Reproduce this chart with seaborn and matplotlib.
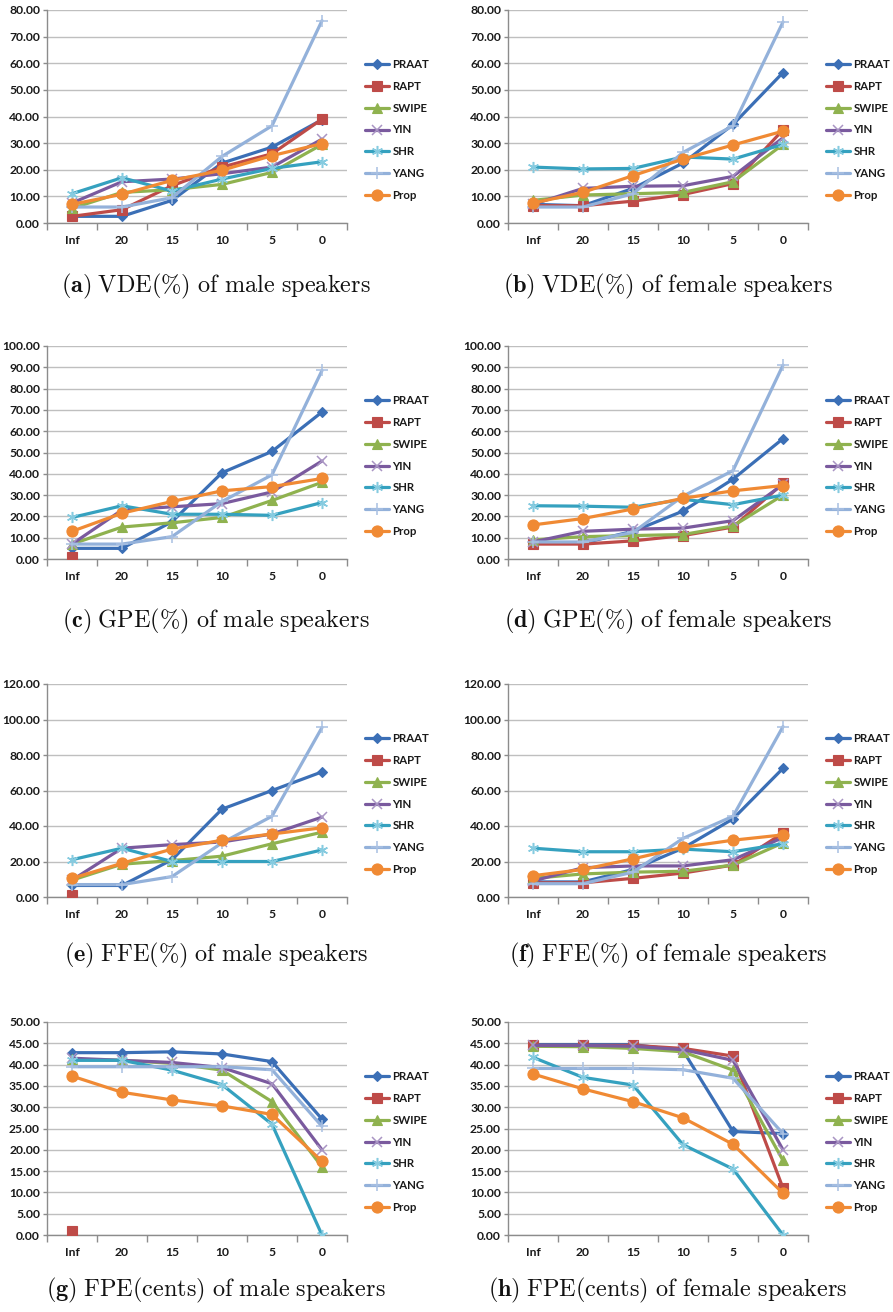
import numpy as np
import pandas as pd
import matplotlib
matplotlib.use("Agg")
import matplotlib.pyplot as plt
import seaborn as sns

sns.set_theme(style="white")
plt.rcParams["font.family"] = ["Lato", "DejaVu Sans"]
plt.rcParams["mathtext.fontset"] = "cm"

NA = np.nan
snr_labels = ["Inf", "20", "15", "10", "5", "0"]
methods = ["PRAAT", "RAPT", "SWIPE", "YIN", "SHR", "YANG", "Prop"]

# VDE(%) male / female
vde_male = {
    "PRAAT": [2.5, 2.5, 8.5, 22.5, 28.5, 38.8],
    "RAPT":  [2.5, 5.0, 14.0, 21.0, 26.0, 39.0],
    "SWIPE": [5.5, 11.5, 12.5, 14.5, 19.0, 29.5],
    "YIN":   [7.5, 15.5, 16.5, 18.5, 21.0, 31.5],
    "SHR":   [11.0, 17.0, 12.0, 16.5, 20.5, 23.0],
    "YANG":  [6.0, 6.0, 9.5, 25.0, 36.5, 76.0],
    "Prop":  [7.0, 10.8, 16.0, 19.8, 25.3, 29.8],
}
vde_female = {
    "PRAAT": [7.0, 6.5, 13.0, 22.5, 37.0, 56.5],
    "RAPT":  [6.5, 6.5, 8.2, 10.7, 14.8, 35.0],
    "SWIPE": [8.5, 10.5, 11.0, 11.5, 15.5, 29.5],
    "YIN":   [7.0, 13.0, 13.8, 14.0, 17.5, 32.0],
    "SHR":   [21.0, 20.3, 20.5, 24.8, 24.0, 29.5],
    "YANG":  [6.0, 6.0, 11.0, 26.5, 36.5, 75.5],
    "Prop":  [7.5, 11.5, 17.8, 24.0, 29.3, 34.5],
}
# GPE(%) male / female
gpe_male = {
    "PRAAT": [5.0, 5.0, 17.5, 40.5, 50.5, 69.0],
    "RAPT":  [1.0, NA, NA, NA, NA, NA],
    "SWIPE": [7.0, 15.0, 17.0, 19.5, 27.5, 36.0],
    "YIN":   [7.0, 23.0, 24.5, 26.0, 31.5, 46.0],
    "SHR":   [19.5, 25.0, 21.0, 21.0, 20.5, 26.5],
    "YANG":  [7.0, 7.0, 10.5, 27.0, 39.5, 88.5],
    "Prop":  [13.0, 21.5, 27.0, 32.0, 34.0, 37.8],
}
gpe_female = {
    "PRAAT": [7.5, 7.5, 13.0, 22.5, 37.5, 56.5],
    "RAPT":  [7.0, 7.0, 8.5, 11.0, 15.0, 35.5],
    "SWIPE": [9.0, 10.5, 11.0, 11.5, 15.5, 30.0],
    "YIN":   [8.0, 13.0, 14.0, 14.5, 18.0, 35.0],
    "SHR":   [25.0, 24.8, 24.3, 28.0, 25.5, 30.0],
    "YANG":  [8.0, 8.0, 12.5, 29.5, 41.5, 91.0],
    "Prop":  [16.0, 19.0, 23.5, 28.5, 32.0, 34.5],
}
# FFE(%) male / female
ffe_male = {
    "PRAAT": [6.5, 6.5, 21.0, 49.5, 60.0, 70.5],
    "RAPT":  [1.0, NA, NA, NA, NA, NA],
    "SWIPE": [9.5, 18.5, 20.5, 23.0, 30.0, 36.5],
    "YIN":   [9.5, 27.5, 29.5, 31.0, 35.5, 45.0],
    "SHR":   [21.0, 27.5, 20.0, 20.0, 20.0, 26.5],
    "YANG":  [7.0, 7.0, 11.5, 30.5, 45.5, 95.5],
    "Prop":  [10.5, 19.0, 27.0, 32.0, 35.5, 39.0],
}
ffe_female = {
    "PRAAT": [8.5, 8.5, 15.5, 27.5, 44.0, 72.5],
    "RAPT":  [8.0, 8.0, 10.5, 13.5, 18.0, 36.0],
    "SWIPE": [10.5, 13.0, 14.0, 14.5, 18.0, 30.5],
    "YIN":   [9.0, 16.5, 17.5, 17.5, 21.0, 33.5],
    "SHR":   [27.5, 25.5, 25.5, 27.0, 25.5, 30.0],
    "YANG":  [7.5, 7.5, 14.0, 33.0, 45.5, 96.0],
    "Prop":  [12.0, 15.5, 21.5, 28.0, 32.0, 35.0],
}
# FPE(cents) male / female
fpe_male = {
    "PRAAT": [42.8, 42.8, 43.0, 42.5, 40.7, 27.2],
    "RAPT":  [1.0, NA, NA, NA, NA, NA],
    "SWIPE": [41.2, 41.0, 40.3, 38.7, 31.3, 16.0],
    "YIN":   [41.5, 41.0, 40.5, 39.3, 35.5, 20.0],
    "SHR":   [41.0, 41.0, 38.7, 35.3, 26.0, 0.0],
    "YANG":  [39.5, 39.5, 39.5, 39.5, 38.8, 25.5],
    "Prop":  [37.3, 33.5, 31.7, 30.3, 28.3, 17.3],
}
fpe_female = {
    "PRAAT": [44.7, 44.7, 44.7, 43.3, 24.3, 23.8],
    "RAPT":  [44.5, 44.5, 44.5, 43.8, 42.0, 11.0],
    "SWIPE": [44.3, 44.2, 43.8, 43.0, 38.7, 17.5],
    "YIN":   [44.5, 44.5, 44.3, 43.5, 41.0, 20.0],
    "SHR":   [41.7, 37.0, 35.2, 21.2, 15.5, 0.0],
    "YANG":  [39.1, 39.1, 39.1, 38.8, 36.8, 23.8],
    "Prop":  [37.8, 34.3, 31.3, 27.5, 21.3, 9.8],
}

colors = {
    "PRAAT": "#3B6FB6", "RAPT": "#BE4B48", "SWIPE": "#8FB24F",
    "YIN": "#7A5A9E", "SHR": "#35A1BF", "YANG": "#93B1DA", "Prop": "#F08A34",
}
markers = {
    "PRAAT": ("D", 5.0), "RAPT": ("s", 7.0), "SWIPE": ("^", 7.0),
    "YIN": ("x", 7.0), "SHR": ((6, 2, 0), 8.0), "YANG": ("+", 8.0),
    "Prop": ("o", 8.0),
}
marker_colors = {"YIN": "#A995C4", "SHR": "#86CBE0", "YANG": "#A8C0E2"}

panels = [
    (vde_male, 80, 10, "a", "VDE(\\%) of male speakers", 0),
    (vde_female, 80, 10, "b", "VDE(\\%) of female speakers", 1),
    (gpe_male, 100, 10, "c", "GPE(\\%) of male speakers", 0),
    (gpe_female, 100, 10, "d", "GPE(\\%) of female speakers", 1),
    (ffe_male, 120, 20, "e", "FFE(\\%) of male speakers", 0),
    (ffe_female, 120, 20, "f", "FFE(\\%) of female speakers", 1),
    (fpe_male, 50, 5, "g", "FPE(cents) of male speakers", 0),
    (fpe_female, 50, 5, "h", "FPE(cents) of female speakers", 1),
]

W, H = 893, 1312
fig = plt.figure(figsize=(W / 100, H / 100), dpi=100)
fig.patch.set_facecolor("white")

row_tops = [10, 346, 684, 1022]
plot_h = 213
col_left = [47, 508]
plot_w = 300
legend_x = [365, 826]
caption_x = [216, 668]
caption_y = [286, 621, 955, 1290]

grid_c = "#BFBFBF"
axis_c = "#8C8C8C"

for i, (data, ymax, ystep, letter, caption, col) in enumerate(panels):
    row = i // 2
    top = row_tops[row]
    ax = fig.add_axes([col_left[col] / W, 1 - (top + plot_h) / H,
                       plot_w / W, plot_h / H])
    ax.set_facecolor("white")
    for m in methods:
        df = pd.DataFrame({"SNR": snr_labels, "value": data[m]})
        mk, ms = markers[m]
        mc = marker_colors.get(m, colors[m])
        sns.lineplot(data=df, x="SNR", y="value", ax=ax, sort=False,
                     color=colors[m], lw=2.3, marker=mk, markersize=ms,
                     markeredgecolor=mc, markerfacecolor=mc,
                     markeredgewidth=1.1 if mk in ("x", "+") or isinstance(mk, tuple) else 0.8,
                     label=m, zorder=3)
    ax.set_xlim(-0.5, 5.5)
    ax.set_ylim(0, ymax)
    yt = np.arange(0, ymax + 0.01, ystep)
    ax.set_yticks(yt)
    ax.set_yticklabels([f"{v:.2f}" for v in yt])
    ax.yaxis.grid(True, color=grid_c, lw=1.0)
    ax.set_axisbelow(True)
    ax.set_xticks(np.arange(-0.5, 6.0, 1.0))
    ax.set_xticklabels([])
    ax.set_xticks(np.arange(0, 6), minor=True)
    ax.set_xticklabels(snr_labels, minor=True)
    ax.tick_params(axis="x", which="major", length=5, width=1, color=axis_c,
                   direction="out", bottom=True)
    ax.tick_params(axis="x", which="minor", length=0, pad=9,
                   labelsize=8.7, labelcolor="#1a1a1a")
    ax.tick_params(axis="y", length=3, width=1, color=axis_c, direction="out",
                   left=True, labelsize=8.7, labelcolor="#1a1a1a", pad=2)
    for lab in ax.get_yticklabels() + ax.get_xticklabels(minor=True):
        lab.set_fontweight("bold")
    for s in ("top", "right"):
        ax.spines[s].set_visible(False)
    for s in ("left", "bottom"):
        ax.spines[s].set_color(axis_c)
        ax.spines[s].set_linewidth(1.0)
    ax.set_xlabel("")
    ax.set_ylabel("")
    leg = ax.legend(loc="center left",
                    bbox_to_anchor=(legend_x[col] / W, 1 - (top + 120) / H),
                    bbox_transform=fig.transFigure, frameon=False,
                    prop={"weight": "bold", "size": 8.2},
                    handlelength=2.1, handletextpad=0.3, labelspacing=0.95,
                    borderpad=0, borderaxespad=0)
    for t in leg.get_texts():
        t.set_color("#1a1a1a")
    fig.text(caption_x[col] / W, 1 - caption_y[row] / H,
             r"$\mathbf{(" + letter + r")}$ $\mathrm{" + caption.replace(" ", r"\ ") + "}$",
             ha="center", va="center", fontsize=17.5, color="#111111")

fig.savefig("out.png", dpi=100, facecolor="white")
